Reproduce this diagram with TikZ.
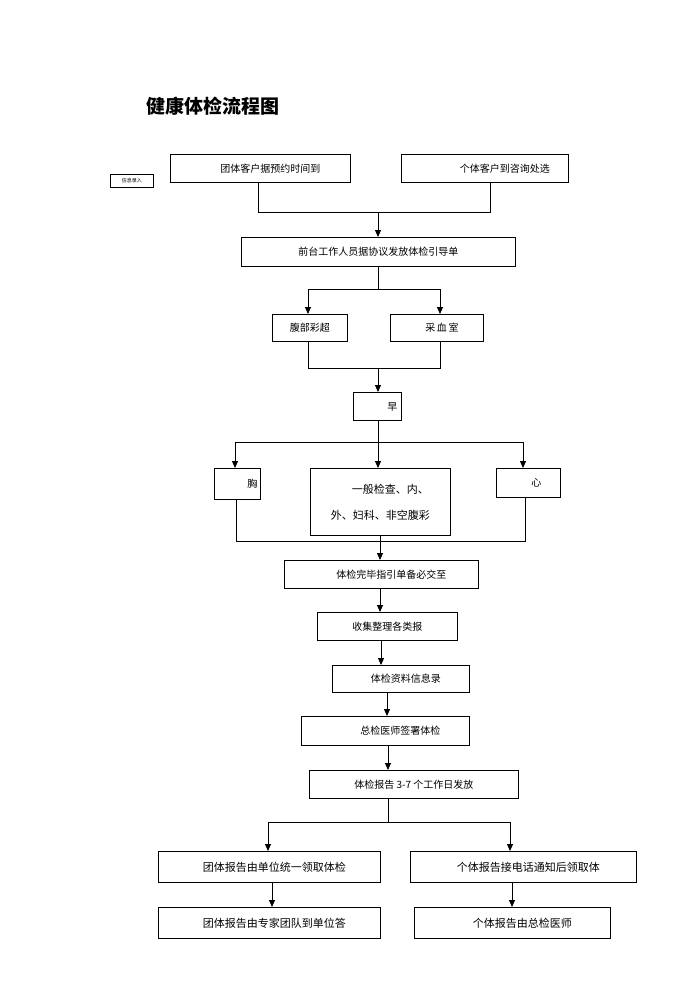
\documentclass[tikz,border=0pt]{standalone}
\usepackage{fontspec}
\setmainfont{Noto Sans CJK SC}
\usetikzlibrary{arrows.meta,calc}
\begin{document}
\begin{tikzpicture}[x=1pt,y=-1pt,
  box/.style={draw,line width=0.9pt,anchor=north west,inner sep=0pt,font=\fontsize{10}{12}\selectfont},
  ln/.style={line width=0.9pt},
  arr/.style={line width=0.9pt,-{Triangle[length=7pt,width=6pt]}}]
\useasboundingbox (0,0) rectangle (700,989);
\node[font=\fontsize{19}{22}\selectfont\bfseries,anchor=west] (title) at (143,106) {健康体检流程图};
\node[box,minimum width=43,minimum height=13,font=\fontsize{5}{6}\selectfont] (xx) at (110,174) {信息录入};
\node[box,minimum width=180,minimum height=28] (tt) at (170,154) {\hspace{20pt}团体客户据预约时间到};
\node[box,minimum width=167,minimum height=28] (gt) at (401,154) {\hspace{40pt}个体客户到咨询处选};
\node[box,minimum width=274,minimum height=29] (qt) at (241,237) {前台工作人员据协议发放体检引导单};
\node[box,minimum width=75,minimum height=27] (fb) at (272,314) {腹部彩超};
\node[box,minimum width=93,minimum height=27] (cx) at (390,314) {\hspace{10pt}采\,血\,室};
\node[box,minimum width=48,minimum height=28] (z) at (353,392) {\hspace{30pt}早};
\node[box,minimum width=46,minimum height=31] (x) at (214,468) {\hspace{30pt}胸};
\node[box,minimum width=140,minimum height=67,align=center,font=\fontsize{11}{26}\selectfont] (yb) at (310,468) {\hspace{20pt}一般检查、内、\\外、妇科、非空腹彩};
\node[box,minimum width=64,minimum height=29] (xin) at (496,468) {\hspace{16pt}心};
\node[box,minimum width=194,minimum height=28] (wb) at (284,560) {\hspace{20pt}体检完毕指引单备必交至};
\node[box,minimum width=140,minimum height=28] (sj) at (317,612) {收集整理各类报};
\node[box,minimum width=137,minimum height=27] (zl) at (332,665) {\hspace{10pt}体检资料信息录};
\node[box,minimum width=168,minimum height=29] (zj) at (301,716) {\hspace{30pt}总检医师签署体检};
\node[box,minimum width=209,minimum height=28] (bg) at (309,770) {体检报告 3-7 个工作日发放};
\node[box,minimum width=222,minimum height=31,font=\fontsize{11}{13}\selectfont] (tb) at (158,851) {\hspace{10pt}团体报告由单位统一领取体检};
\node[box,minimum width=226,minimum height=31,font=\fontsize{11}{13}\selectfont] (gb) at (410,851) {\hspace{10pt}个体报告接电话通知后领取体};
\node[box,minimum width=222,minimum height=31,font=\fontsize{11}{13}\selectfont] (tz) at (158,907) {\hspace{10pt}团体报告由专家团队到单位答};
\node[box,minimum width=196,minimum height=31,font=\fontsize{11}{13}\selectfont] (gz) at (414,907) {\hspace{20pt}个体报告由总检医师};
% connectors
\coordinate (a1) at (258,212); \coordinate (a2) at (490,212); \coordinate (am) at (378,212);
\draw[ln] (tt.south -| a1) -- (a1) -- (a2) -- (gt.south -| a2);
\draw[arr] (am) -- (qt.north -| am);
\coordinate (b0) at (378,289); \coordinate (b1) at (308,289); \coordinate (b2) at (440,289);
\draw[ln] (qt.south -| b0) -- (b0);
\draw[arr] (b0) -- (b1) -- (fb.north -| b1);
\draw[arr] (b0) -- (b2) -- (cx.north -| b2);
\coordinate (c1) at (308,368); \coordinate (c2) at (440,368); \coordinate (cm) at (378,368);
\draw[ln] (fb.south -| c1) -- (c1) -- (c2) -- (cx.south -| c2);
\draw[arr] (cm) -- (z.north -| cm);
\coordinate (d0) at (378,442); \coordinate (d1) at (235,442); \coordinate (d2) at (523,442);
\draw[arr] (z.south -| d0) -- (yb.north -| d0);
\draw[arr] (d0) -- (d1) -- (x.north -| d1);
\draw[arr] (d0) -- (d2) -- (xin.north -| d2);
\coordinate (e1) at (236,541); \coordinate (e2) at (525,541); \coordinate (em) at (380,541);
\draw[ln] (x.south -| e1) -- (e1) -- (e2) -- (xin.south -| e2);
\draw[arr] (yb.south -| em) -- (wb.north -| em);
\coordinate (f1) at (380,0); \coordinate (f2) at (381,0); \coordinate (f3) at (387,0); \coordinate (f4) at (388,0);
\draw[arr] (wb.south -| f1) -- (sj.north -| f1);
\draw[arr] (sj.south -| f2) -- (zl.north -| f2);
\draw[arr] (zl.south -| f3) -- (zj.north -| f3);
\draw[arr] (zj.south -| f4) -- (bg.north -| f4);
\coordinate (g0) at (388,822); \coordinate (g1) at (268,822); \coordinate (g2) at (510,822);
\draw[ln] (bg.south -| g0) -- (g0);
\draw[arr] (g0) -- (g1) -- (tb.north -| g1);
\draw[arr] (g0) -- (g2) -- (gb.north -| g2);
\coordinate (h1) at (272,0); \coordinate (h2) at (512,0);
\draw[arr] (tb.south -| h1) -- (tz.north -| h1);
\draw[arr] (gb.south -| h2) -- (gz.north -| h2);
\end{tikzpicture}
\end{document}
